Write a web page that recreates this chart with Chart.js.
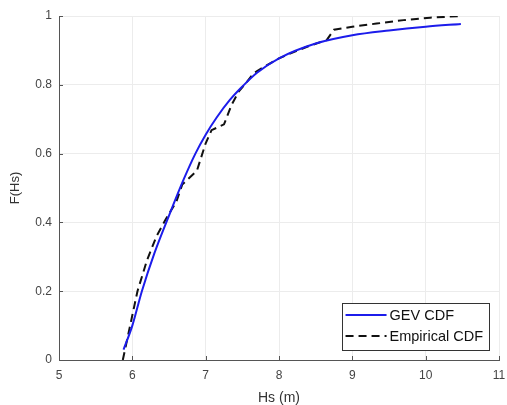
<!DOCTYPE html>
<html>
<head>
<meta charset="utf-8">
<script src="https://cdn.jsdelivr.net/npm/chart.js@4"></script>
<style>
    html, body { margin: 0; padding: 0; background: #fff; }
    #wrap { width: 507px; height: 405px; }
</style>
</head>
<body>
<div id="wrap"><canvas id="chart"></canvas></div>
<script>
// fitted GEV distribution, read at a handful of Hs values
let gevHs = [5.88, 6.0, 6.13, 6.3, 6.5, 6.7, 6.86, 7.0, 7.15, 7.33, 7.5, 7.7, 8.0, 8.5, 9.0, 9.5, 10.0, 10.48];
let gevF = [0.03, 0.10, 0.20, 0.31, 0.42, 0.525, 0.60, 0.655, 0.705, 0.756, 0.795, 0.835, 0.877, 0.92, 0.944, 0.958, 0.969, 0.977];

// empirical CDF of the sample
let empHs = [5.87, 5.95, 6.07, 6.2, 6.33, 6.45, 6.6, 6.68, 6.88, 7.0, 7.08, 7.25, 7.35, 7.45, 7.55, 7.65, 7.8, 8.0, 8.2, 8.4, 8.65, 8.75, 9.0, 9.33, 9.7, 10.06, 10.47];
let empF = [0.0, 0.08, 0.2, 0.29, 0.36, 0.407, 0.46, 0.51, 0.55, 0.63, 0.668, 0.685, 0.74, 0.78, 0.805, 0.833, 0.853, 0.877, 0.895, 0.912, 0.93, 0.96, 0.969, 0.978, 0.988, 0.995, 1.0];

let xTicks = [5, 6, 7, 8, 9, 10, 11];
let yTicks = [0, 0.2, 0.4, 0.6, 0.8, 1];

const FONT = "'Liberation Sans', Arial, sans-serif";

function pairs(xs, ys) {
    return xs.map((x, i) => ({ x: x, y: ys[i] }));
}

// inward tick marks plus a boxed legend in the lower right corner
const extras = {
    id: "extras",
    afterDraw(chart) {
        let ctx = chart.ctx;
        let area = chart.chartArea;
        let xs = chart.scales.x;
        let ys = chart.scales.y;

        ctx.save();
        ctx.strokeStyle = "#555";
        ctx.lineWidth = 1;
        ctx.beginPath();
        xTicks.forEach((t) => {
            let px = Math.round(xs.getPixelForValue(t)) + 0.5;
            ctx.moveTo(px, area.bottom);
            ctx.lineTo(px, area.bottom - 4);
        });
        yTicks.forEach((t) => {
            let py = Math.round(ys.getPixelForValue(t)) + 0.5;
            ctx.moveTo(area.left, py);
            ctx.lineTo(area.left + 4, py);
        });
        ctx.stroke();

        // legend
        ctx.font = "14.5px " + FONT;
        let sets = chart.data.datasets;
        let textW = Math.max(...sets.map((d) => ctx.measureText(d.label).width));
        let lineLen = 41;
        let rowH = 21;
        let boxW = 4 + lineLen + 3 + textW + 6;
        let boxH = sets.length * rowH + 5;
        let right = area.right - 10;
        let bottom = area.bottom - 10;
        let left = right - boxW;
        let top = bottom - boxH;

        ctx.fillStyle = "#fff";
        ctx.fillRect(left, top, boxW, boxH);
        ctx.strokeStyle = "#333";
        ctx.lineWidth = 1;
        ctx.strokeRect(Math.round(left) + 0.5, Math.round(top) + 0.5, Math.round(boxW), Math.round(boxH));

        sets.forEach((d, i) => {
            let y = top + 12 + i * rowH;
            ctx.strokeStyle = d.borderColor;
            ctx.lineWidth = d.borderWidth;
            ctx.setLineDash(d.borderDash || []);
            ctx.beginPath();
            ctx.moveTo(left + 4, y);
            ctx.lineTo(left + 4 + lineLen, y);
            ctx.stroke();
            ctx.setLineDash([]);
            ctx.fillStyle = "#111";
            ctx.textBaseline = "middle";
            ctx.textAlign = "left";
            ctx.fillText(d.label, left + 4 + lineLen + 3, y + 1);
        });
        ctx.restore();
    },
};

chart = new Chart(document.getElementById("chart"), {
    type: "line",
    data: {
        datasets: [
            {
                label: "GEV CDF",
                data: pairs(gevHs, gevF),
                borderColor: "rgb(28,28,235)",
                borderWidth: 2,
                fill: false,
                cubicInterpolationMode: "monotone",
                pointRadius: 0,
            },
            {
                label: "Empirical CDF",
                data: pairs(empHs, empF),
                borderColor: "#111",
                borderWidth: 2,
                borderDash: [8, 5],
                fill: false,
                tension: 0,
                pointRadius: 0,
            },
        ],
    },
    options: {
        responsive: true,
        maintainAspectRatio: false,
        animation: false,
        layout: {
            padding: { top: 16, right: 8, left: 0, bottom: 0 },
        },
        plugins: {
            legend: { display: false },
            tooltip: { enabled: false },
        },
        scales: {
            x: {
                type: "linear",
                min: 5,
                max: 11,
                afterFit: (s) => {
                    s.height = 45;
                    s.paddingLeft = 0;
                    s.paddingRight = 0;
                },
                afterBuildTicks: (s) => { s.ticks = xTicks.map((v) => ({ value: v })); },
                grid: { color: "#ececec", drawTicks: false },
                border: { color: "#555" },
                ticks: {
                    padding: 8,
                    color: "#444",
                    font: { family: FONT, size: 12 },
                },
                title: {
                    display: true,
                    text: "Hs (m)",
                    color: "#333",
                    padding: 0,
                    font: { family: FONT, size: 14, lineHeight: 1.0 },
                },
            },
            y: {
                min: 0,
                max: 1,
                afterFit: (s) => {
                    s.width = 59;
                    s.paddingTop = 0;
                    s.paddingBottom = 0;
                },
                afterBuildTicks: (s) => { s.ticks = yTicks.map((v) => ({ value: v })); },
                grid: { color: "#ececec", drawTicks: false },
                border: { color: "#555" },
                ticks: {
                    padding: 7,
                    color: "#444",
                    font: { family: FONT, size: 12 },
                    callback: (v) => String(v),
                },
                title: {
                    display: true,
                    text: "F(Hs)",
                    color: "#333",
                    padding: 0,
                    font: { family: FONT, size: 13, lineHeight: 2.3 },
                },
            },
        },
    },
    plugins: [extras],
});
</script>
</body>
</html>
